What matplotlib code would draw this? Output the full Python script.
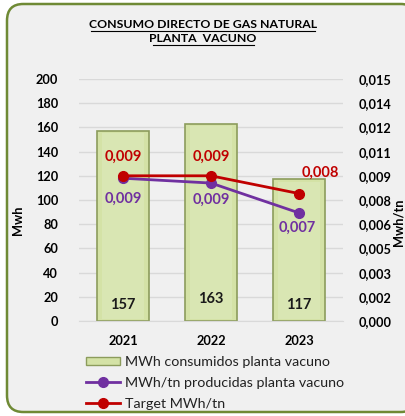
import matplotlib.pyplot as plt
from matplotlib.patches import FancyBboxPatch
from matplotlib.lines import Line2D
from matplotlib.patches import Patch
import numpy as np

plt.rcParams['font.family'] = ['Lato', 'DejaVu Sans']

years = ["2021", "2022", "2023"]
mwh = [157, 163, 117]
mwh_tn = [0.00885, 0.00855, 0.0067]
target = [0.009, 0.009, 0.0079]
left_ticks = [0, 20, 40, 60, 80, 100, 120, 140, 160, 180, 200]
right_ticks = ["0,000", "0,002", "0,003", "0,005", "0,006", "0,008",
               "0,009", "0,011", "0,012", "0,014", "0,015"]

bar_col = "#d4e2a6"
bar_edge = "#8c9c5c"
purple = "#7030a0"
red = "#c00000"
W, H = 406, 416

fig = plt.figure(figsize=(W / 100, H / 100), dpi=100)
fig.patch.set_facecolor("white")

# rounded chart frame
frame = FancyBboxPatch((7 / W, 4 / H), 410 / W, 408 / H,
                       boxstyle="round,pad=0,rounding_size=0.04",
                       transform=fig.transFigure, facecolor="#f0f0f0",
                       edgecolor="#6f8a35", linewidth=1.8, zorder=-5)
fig.patches.append(frame)

ax = fig.add_axes([79 / W, 1 - 321 / H, 264 / W, 242 / H])
ax.set_facecolor("none")
x = np.arange(len(years))

ax.bar(x, mwh, width=0.59, color=bar_col, edgecolor=bar_edge, linewidth=1.2, zorder=2)
# highlight strip for the bevel look
ax.bar(x, [v - 4 for v in mwh], width=0.47, bottom=2, color="#d9e6b3",
       edgecolor="none", zorder=2)

ax.set_xlim(-0.5, 2.5)
ax.set_ylim(0, 200)
ax.set_yticks(left_ticks)
ax.set_yticklabels([str(t) for t in left_ticks], fontsize=9.2, fontweight="bold")
ax.set_xticks(x)
ax.set_xticklabels(years, fontsize=9.2, fontweight="bold")
ax.tick_params(axis="y", length=0, pad=15)
ax.tick_params(axis="x", length=0, pad=10)
ax.grid(axis="y", color="#d9d9d9", linewidth=1.0, zorder=0)
for s in ax.spines.values():
    s.set_visible(False)
ax.spines["bottom"].set_visible(True)
ax.spines["bottom"].set_color("#d9d9d9")

bar_label_y = [13, 18, 13]
for i, v in enumerate(mwh):
    ax.text(x[i], bar_label_y[i], str(v), ha="center", va="center",
            fontsize=10.5, fontweight="bold", color="#1a1a1a", zorder=4)

ax2 = ax.twinx()
ax2.set_ylim(0, 0.015)
ax2.set_yticks(np.linspace(0, 0.015, 11))
ax2.set_yticklabels(right_ticks, fontsize=9.2, fontweight="bold")
ax2.tick_params(axis="y", length=0, pad=11)
for s in ax2.spines.values():
    s.set_visible(False)

ax2.plot(x, mwh_tn, color=purple, linewidth=2, marker="o", markersize=7, zorder=3)
ax2.plot(x, target, color=red, linewidth=2, marker="o", markersize=7, zorder=4)

fmt = lambda v: f"{v:.3f}".replace(".", ",")
red_off = [(0, 19), (0, 19), (21, 21)]
pur_off = [(0, -21), (0, -17), (-2, -15)]
for i in range(3):
    ax2.annotate(fmt(target[i]), (x[i], target[i]), xytext=red_off[i],
                 textcoords="offset pixels", ha="center", va="center",
                 fontsize=10.5, fontweight="bold", color=red)
    ax2.annotate(fmt(mwh_tn[i]), (x[i], mwh_tn[i]), xytext=pur_off[i],
                 textcoords="offset pixels", ha="center", va="center",
                 fontsize=10.5, fontweight="bold", color=purple)

fig.text(18 / W, 1 - 220 / H, "Mwh", rotation=90, ha="center", va="center",
         fontsize=9.2, fontweight="bold")
fig.text(399 / W, 1 - 222 / H, "Mwh/tn", rotation=90, ha="center", va="center",
         fontsize=9.2, fontweight="bold")

fig.text(203 / W, 1 - 24 / H, "CONSUMO DIRECTO DE GAS NATURAL", ha="center",
         va="center", fontsize=8.8, fontweight="bold")
fig.text(203 / W, 1 - 38 / H, "PLANTA  VACUNO", ha="center", va="center",
         fontsize=8.8, fontweight="bold")
# underlines
fig.add_artist(Line2D([91 / W, 315 / W], [1 - 31 / H, 1 - 31 / H], color="black", linewidth=0.8))
fig.add_artist(Line2D([153 / W, 254 / W], [1 - 45 / H, 1 - 45 / H], color="black", linewidth=0.8))

handles = [Patch(facecolor=bar_col, edgecolor=bar_edge),
           Line2D([], [], color=purple, linewidth=2, marker="o", markersize=7),
           Line2D([], [], color=red, linewidth=2, marker="o", markersize=7)]
labels = ["MWh consumidos planta vacuno", "MWh/tn producidas planta vacuno", "Target MWh/tn"]
fig.legend(handles, labels, loc="upper left", bbox_to_anchor=(86 / W, 1 - 356 / H),
           frameon=False, fontsize=10.3, handlelength=2.4, handleheight=0.45,
           handletextpad=0.3, labelspacing=0.62, borderpad=0, borderaxespad=0,
           labelcolor="#222222")

fig.savefig("out.png", dpi=100)
